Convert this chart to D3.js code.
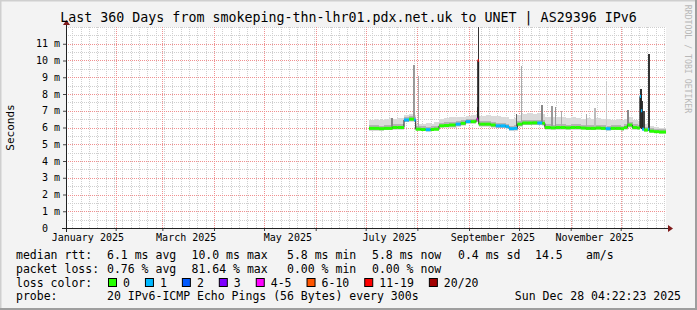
<!DOCTYPE html>
<html>
<head>
<meta charset="utf-8">
<script src="https://cdn.jsdelivr.net/npm/d3@7"></script>
<style>
  body { margin: 0; background: #f3f3f3; }
  svg text { font-family: "DejaVu Sans Mono", monospace; white-space: pre; }
</style>
</head>
<body>
<svg id="chart" width="697" height="310"></svg>
<script>
// step samples: day of 2025 (0 = Jan 1 UTC), value holds until next sample
const sampleDay = [183, 186, 189, 192, 195, 197, 200, 204, 207, 210,
  211, 214, 217, 220, 222, 225, 228, 231, 235, 238,
  241, 244, 247, 247.6, 248.2, 248.8, 250, 253, 256, 259,
  262, 265, 267, 270, 272, 275, 278, 281, 284, 287,
  288.5, 292, 295, 298, 301, 304, 307, 310, 313, 316,
  319, 322, 325, 328, 331, 334, 336, 338, 341, 344,
  345.5, 346.2, 346.9, 348, 350.4, 351.2, 354, 357, 361.2];
const medianMs = [5.95, 5.95, 5.93, 5.95, 5.95, 6.0, 6.0, 6.45, 6.5, 6.45,
  5.9, 5.88, 5.87, 5.88, 5.9, 6.1, 6.12, 6.15, 6.2, 6.25,
  6.35, 6.35, 6.4, 6.5, 10.0, 6.2, 6.2, 6.2, 6.15, 6.1,
  6.1, 6.05, 5.93, 5.95, 6.2, 6.27, 6.27, 6.28, 6.27, 6.25,
  6.0, 5.98, 6.0, 6.0, 5.98, 6.0, 6.0, 5.97, 5.95, 5.95,
  5.97, 5.95, 5.93, 5.95, 5.95, 5.93, 6.0, 6.15, 6.0, 5.97,
  7.85, 7.0, 5.9, 5.85, 5.9, 5.78, 5.75, 5.73, 5.73];
const lossCount = [0, 0, 0, 0, 0, 0, 0, 1, 0, 1,
  0, 0, 1, 0, 0, 0, 0, 0, 1, 0,
  1, 0, 0, 4, 15, 0, 0, 0, 0, 1,
  1, 1, 1, 1, 0, 0, 0, 0, 1, 0,
  0, 0, 0, 0, 0, 0, 0, 0, 0, 0,
  0, 0, 1, 0, 0, 0, 0, 0, 0, 0,
  1, 1, 1, 0, 1, 0, 0, 0, 0];
const smokeLow = [5.82, 5.82, 5.82, 5.83, 5.83, 5.85, 5.87, 6.3, 6.35, 6.3,
  5.78, 5.77, 5.76, 5.77, 5.78, 5.97, 5.98, 6.0, 6.05, 6.1,
  6.2, 6.2, 6.25, 6.3, 6.4, 6.05, 6.05, 6.05, 6.0, 5.95,
  5.95, 5.9, 5.8, 5.82, 6.05, 6.12, 6.12, 6.12, 6.12, 6.1,
  5.87, 5.85, 5.87, 5.87, 5.85, 5.87, 5.87, 5.85, 5.83, 5.83,
  5.85, 5.83, 5.8, 5.83, 5.83, 5.8, 5.87, 6.0, 5.87, 5.85,
  6.0, 5.9, 5.78, 5.75, 5.78, 5.68, 5.65, 5.63, 5.63];
const smokeHigh = [6.45, 6.5, 6.45, 6.5, 6.55, 6.5, 6.55, 6.75, 6.8, 6.75,
  6.2, 6.2, 6.25, 6.2, 6.3, 6.5, 6.55, 6.6, 6.65, 6.65,
  6.7, 6.75, 6.8, 6.8, 6.8, 6.7, 6.7, 6.75, 6.7, 6.7,
  6.65, 6.65, 6.5, 6.55, 6.75, 6.8, 6.85, 6.8, 6.85, 6.8,
  6.6, 6.6, 6.65, 6.6, 6.55, 6.6, 6.55, 6.5, 6.55, 6.5,
  6.55, 6.5, 6.5, 6.45, 6.5, 6.45, 6.5, 6.6, 6.45, 6.4,
  6.4, 6.4, 6.3, 6.2, 6.2, 6.1, 6.05, 6.0, 6.0];

// single-day smoke spikes
const spikeDay = [196.4, 209.3, 212.2, 247.6, 248.2, 271, 274, 286.4, 292.4, 294.4,
  298, 313, 318, 325, 338, 345.5, 346.2, 347.3, 350.4];
const spikeLow = [6.0, 6.5, 6.0, 6.5, 6.5, 6.1, 6.3, 6.3, 6.1, 6.1,
  6.1, 6.0, 6.0, 6.0, 6.15, 6.0, 5.9, 5.9, 5.8];
const spikeHigh = [6.55, 9.75, 9.1, 7.2, 12, 6.8, 9.7, 7.35, 7.3, 7.2,
  7.0, 6.8, 7.15, 8.8, 7.05, 8.3, 7.6, 7.0, 10.4];
const spikeTone = ["#888", "#999", "#aaa", "#333", "#333", "#666", "#aaa", "#888", "#999", "#999",
  "#aaa", "#aaa", "#bbb", "#ccc", "#888", "#333", "#333", "#444", "#333"];

const yTicks = [0, 1, 2, 3, 4, 5, 6, 7, 8, 9, 10, 11];
const lossLabels = ["0", "1", "2", "3", "4-5", "6-10", "11-19", "20/20"];
const lossColors = ["#26ff00", "#00b8ff", "#0059ff", "#7e00ff", "#ff00ff", "#ff5500", "#ff0000", "#a10000"];

const rttParts = ["median rtt:", "6.1 ms avg", "10.0 ms max", "5.8 ms min", "5.8 ms now", "0.4 ms sd", "14.5", "am/s"];
const lossParts = ["packet loss:", "0.76 % avg", "81.64 % max", "0.00 % min", "0.00 % now"];
const probeParts = ["probe:", "20 IPv6-ICMP Echo Pings (56 Bytes) every 300s"];
const stampText = "Sun Dec 28 04:22:23 2025";
const titleText = "Last 360 Days from smokeping-thn-lhr01.pdx.net.uk to UNET | AS29396 IPv6";

const W = 697, H = 310;
const plot = { left: 66, right: 666, top: 27, bottom: 228 };
const legendCols = [16, 107, 191.5, 287, 372, 458, 535, 586];
const dayDate = d => new Date(Date.UTC(2025, 0, 1) + d * 86400000);
const endTime = new Date(Date.UTC(2025, 11, 28, 4, 22, 23));
const startTime = new Date(endTime.getTime() - 360 * 86400000);

const svg = d3.select("#chart");
const x = d3.scaleUtc().domain([startTime, endTime]).range([plot.left, plot.right]);
const y = d3.scaleLinear().domain([0, 12]).range([plot.bottom, plot.top]);

function lossClass(n) {
  if (n <= 3) return n;
  if (n <= 5) return 4;
  if (n <= 10) return 5;
  if (n <= 19) return 6;
  return 7;
}

// frame
svg.append("rect").attr("width", W).attr("height", H).attr("fill", "#f3f3f3");
svg.append("path").attr("d", `M0.5,${H} V0.5 H${W}`).attr("stroke", "#cfcfcf").attr("stroke-width", 2).attr("fill", "none");
svg.append("path").attr("d", `M${W - 1},0 V${H - 1} H0`).attr("stroke", "#9e9e9e").attr("stroke-width", 2).attr("fill", "none");
svg.append("rect")
  .attr("x", plot.left).attr("y", plot.top)
  .attr("width", plot.right - plot.left).attr("height", plot.bottom - plot.top)
  .attr("fill", "#fff");

// grid
const grid = svg.append("g");
const minorY = d3.range(0.5, 12.01, 0.5).filter(v => v % 1 !== 0 || v === 12);
const majorY = d3.range(1, 12);
const minorX = d3.utcDay.every(1).range(startTime, endTime).filter((d, i) => i % 5 === 3);
const majorX = d3.utcMonth.range(startTime, endTime);

grid.selectAll(".minor-x").data(minorX).join("line")
  .attr("x1", d => Math.round(x(d)) + 0.5).attr("x2", d => Math.round(x(d)) + 0.5)
  .attr("y1", plot.top).attr("y2", plot.bottom)
  .attr("stroke", "#cfcfcf").attr("stroke-dasharray", "1,1");
grid.selectAll(".minor-y").data(minorY).join("line")
  .attr("x1", plot.left).attr("x2", plot.right)
  .attr("y1", d => Math.round(y(d)) + 0.5).attr("y2", d => Math.round(y(d)) + 0.5)
  .attr("stroke", "#cfcfcf").attr("stroke-dasharray", "1,1");
grid.selectAll(".major-x").data(majorX).join("line")
  .attr("x1", d => Math.round(x(d)) + 0.5).attr("x2", d => Math.round(x(d)) + 0.5)
  .attr("y1", plot.top).attr("y2", plot.bottom)
  .attr("stroke", "#f09090").attr("stroke-dasharray", "1,1");
grid.selectAll(".major-y").data(majorY).join("line")
  .attr("x1", plot.left).attr("x2", plot.right)
  .attr("y1", d => Math.round(y(d)) + 0.5).attr("y2", d => Math.round(y(d)) + 0.5)
  .attr("stroke", "#f09090").attr("stroke-dasharray", "1,1");

// smoke
const steps = sampleDay.slice(0, -1).map((d, i) => ({
  x0: x(dayDate(d)), x1: x(dayDate(sampleDay[i + 1])),
  med: medianMs[i], loss: lossCount[i], lo: smokeLow[i], hi: smokeHigh[i]
}));
const smoke = svg.append("g").attr("shape-rendering", "crispEdges");
smoke.selectAll(".light").data(steps).join("rect")
  .attr("x", d => d.x0).attr("width", d => d.x1 - d.x0 + 0.3)
  .attr("y", d => y(d.hi)).attr("height", d => y(d.lo) - y(d.hi))
  .attr("fill", "#dadada");
smoke.selectAll(".dark").data(steps).join("rect")
  .attr("x", d => d.x0).attr("width", d => d.x1 - d.x0 + 0.3)
  .attr("y", d => y(d.med + 0.18)).attr("height", d => y(d.lo + 0.05) - y(d.med + 0.18))
  .attr("fill", "#b4b4b4");

const spikes = spikeDay.map((d, i) => ({ d, lo: spikeLow[i], hi: spikeHigh[i], tone: spikeTone[i] }));
smoke.selectAll(".spike").data(spikes).join("rect")
  .attr("x", s => x(dayDate(s.d))).attr("width", s => x(dayDate(s.d + 1)) - x(dayDate(s.d)))
  .attr("y", s => y(s.hi)).attr("height", s => y(s.lo) - y(s.hi))
  .attr("fill", s => s.tone);

// median
const medLine = d3.line().curve(d3.curveStepAfter)
  .x((d, i) => x(dayDate(sampleDay[i]))).y(d => y(d));
svg.append("path")
  .attr("d", medLine(medianMs))
  .attr("fill", "none").attr("stroke", "#202020").attr("stroke-width", 1);
svg.append("g").selectAll("line").data(steps).join("line")
  .attr("x1", d => d.x0).attr("x2", d => d.x1)
  .attr("y1", d => y(d.med)).attr("y2", d => y(d.med))
  .attr("stroke", d => lossColors[lossClass(d.loss)]).attr("stroke-width", 3);

// axes
const yAxis = svg.append("g").attr("transform", `translate(${plot.left},0)`)
  .call(d3.axisLeft(y).tickValues(yTicks).tickSize(3).tickPadding(3)
    .tickFormat(v => v === 0 ? "0  " : `${v} m`));
yAxis.select(".domain").remove();
yAxis.selectAll("text").attr("font-size", 10).attr("fill", "#000")
  .style("font-family", "'DejaVu Sans Mono', monospace");
yAxis.selectAll("line").attr("stroke", "#444");

const xTicks = svg.append("g").attr("transform", `translate(0,${plot.bottom})`)
  .call(d3.axisBottom(x).tickValues(majorX).tickSize(3).tickFormat(""));
xTicks.select(".domain").remove();
xTicks.selectAll("line").attr("stroke", "#444");

const labelDates = d3.utcMonth.every(2).range(d3.utcYear.floor(startTime), endTime)
  .map(m => d3.utcDay.offset(m, 14));
const xLabels = svg.append("g").attr("transform", `translate(0,${plot.bottom})`)
  .call(d3.axisBottom(x).tickValues(labelDates).tickSize(0).tickPadding(6)
    .tickFormat(d3.utcFormat("%B %Y")));
xLabels.select(".domain").remove();
xLabels.selectAll("text").attr("font-size", 10).attr("fill", "#000")
  .style("font-family", "'DejaVu Sans Mono', monospace");

svg.append("line").attr("x1", plot.left - 4).attr("x2", plot.right + 2)
  .attr("y1", plot.bottom + 0.5).attr("y2", plot.bottom + 0.5).attr("stroke", "#222");
svg.append("line").attr("x1", plot.left + 0.5).attr("x2", plot.left + 0.5)
  .attr("y1", plot.top - 2).attr("y2", plot.bottom + 4).attr("stroke", "#222");
svg.append("path").attr("fill", "#7f1a1a")
  .attr("d", `M${plot.right + 2},${plot.bottom - 3} l5,3.5 l-5,3.5 z`);
svg.append("path").attr("fill", "#7f1a1a")
  .attr("d", `M${plot.left - 3},${plot.top - 2} l3.5,-5 l3.5,5 z`);

// texts
svg.append("text").attr("x", W / 2).attr("y", 22).attr("text-anchor", "middle")
  .attr("font-size", 13.3).text(titleText);
svg.append("text").attr("transform", `translate(14,${(plot.top + plot.bottom) / 2}) rotate(-90)`)
  .attr("text-anchor", "middle").attr("font-size", 11).text("Seconds");
svg.append("text").attr("transform", `translate(685,${59}) rotate(90)`)
  .attr("text-anchor", "middle").attr("font-size", 8.2).attr("fill", "#b8b8b8")
  .text("RRDTOOL / TOBI OETIKER");

const legend = svg.append("g").attr("font-size", 11.5);
[rttParts, lossParts].forEach((parts, row) => {
  legend.selectAll(null).data(parts).join("text")
    .attr("x", (t, i) => legendCols[i]).attr("y", 259 + row * 13.7).text(t => t);
});

const lossRow = legend.append("g");
lossRow.append("text").attr("x", legendCols[0]).attr("y", 286.5).text("loss color:");
let cursor = 108;
lossLabels.forEach((lab, i) => {
  lossRow.append("rect").attr("x", cursor + 0.5).attr("y", 278.5).attr("width", 8).attr("height", 8)
    .attr("fill", lossColors[i]).attr("stroke", "#000");
  const t = lossRow.append("text").attr("x", cursor + 15).attr("y", 286.5).text(lab);
  cursor += 15 + t.node().getComputedTextLength() + 15;
});

legend.selectAll(null).data(probeParts).join("text")
  .attr("x", (t, i) => legendCols[i]).attr("y", 300).text(t => t);
legend.append("text").attr("x", 681).attr("y", 300).attr("text-anchor", "end").text(stampText);
</script>
</body>
</html>
